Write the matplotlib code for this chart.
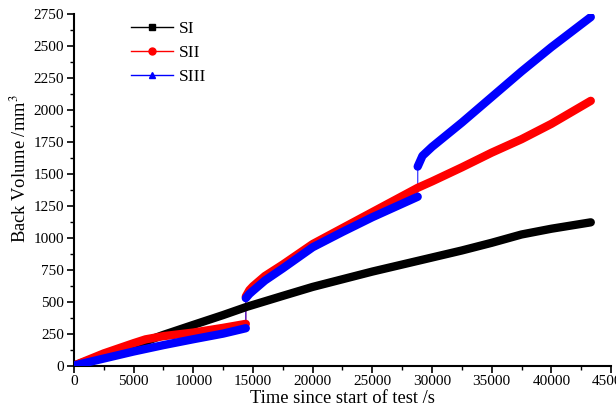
import matplotlib
matplotlib.use('Agg')
import matplotlib.pyplot as plt
from matplotlib.ticker import MultipleLocator

plt.rcParams['font.family'] = ['Liberation Serif', 'DejaVu Serif']
plt.rcParams['mathtext.fontset'] = 'stix'

# values (time in s, back volume in mm^3)
si_time = [0, 2500, 5000, 7500, 10000, 12500, 14500, 17500, 20000, 22500, 25000,
           27500, 30000, 32500, 35000, 37500, 40000, 43300]
si_vol = [0, 80, 155, 240, 318, 395, 460, 545, 615, 675, 735,
          790, 845, 900, 960, 1025, 1070, 1120]

sii_time = [0, 2500, 5000, 6000, 7500, 10000, 12500, 14400,
            14400, 14700, 15000, 16000, 17500, 20000, 22500, 25000, 28800,
            30000, 32500, 35000, 37500, 40000, 43300]
sii_vol = [0, 95, 175, 205, 230, 258, 295, 326,
           540, 590, 620, 700, 790, 950, 1075, 1200, 1390,
           1440, 1550, 1665, 1770, 1890, 2070]
sii_jump = [8]

siii_time = [0, 2500, 5000, 7500, 10000, 12500, 14400,
             14400, 14700, 15000, 16000, 17500, 20000, 22500, 25000, 28800,
             28800, 29200, 30000, 32500, 35000, 37500, 40000, 43300]
siii_vol = [0, 55, 110, 160, 206, 250, 292,
            527, 560, 585, 665, 760, 925, 1045, 1160, 1320,
            1556, 1640, 1710, 1900, 2100, 2300, 2490, 2725]
siii_jump = [7, 16]

series = [('SI', si_time, si_vol, [], 'black', 's'),
          ('SII', sii_time, sii_vol, sii_jump, 'red', 'o'),
          ('SIII', siii_time, siii_vol, siii_jump, 'blue', '^')]

fig = plt.figure(figsize=(6.16, 4.08), dpi=100)
ax = fig.add_axes([0.120, 0.104, 0.872, 0.862])

for name, t, v, jumps, col, mk in series:
    # thin connecting line (shows the vertical jumps)
    ax.plot(t, v, color=col, lw=1, alpha=0.7, zorder=2)
    # dense-marker look: thick line for each continuous segment
    cuts = [0] + jumps + [len(t)]
    for a, b in zip(cuts[:-1], cuts[1:]):
        ax.plot(t[a:b], v[a:b], color=col, lw=6, solid_capstyle='round', zorder=3)
    ax.plot([], [], color=col, lw=1, marker=mk, ms=5, label=name)

ax.set_xlim(0, 45000)
ax.set_ylim(0, 2750)
ax.xaxis.set_major_locator(MultipleLocator(5000))
ax.xaxis.set_minor_locator(MultipleLocator(2500))
ax.yaxis.set_major_locator(MultipleLocator(250))
ax.yaxis.set_minor_locator(MultipleLocator(125))
ax.tick_params(which='major', direction='out', length=5, width=1.2, labelsize=11, pad=2)
ax.tick_params(which='minor', direction='out', length=3, width=1.0)
for s in ['top', 'right']:
    ax.spines[s].set_visible(False)
for s in ['left', 'bottom']:
    ax.spines[s].set_linewidth(1.5)

ax.set_xlabel('Time since start of test /s', fontsize=13.3, labelpad=1)
ax.set_ylabel('Back Volume /mm$^3$', fontsize=13.3)
ax.yaxis.set_label_coords(-0.082, 0.559)

ax.legend(loc='upper left', bbox_to_anchor=(0.078, 1.025), frameon=False,
          fontsize=12.5, handlelength=2.4, handletextpad=0.35, labelspacing=0.45)

fig.savefig('out.png', dpi=100)
